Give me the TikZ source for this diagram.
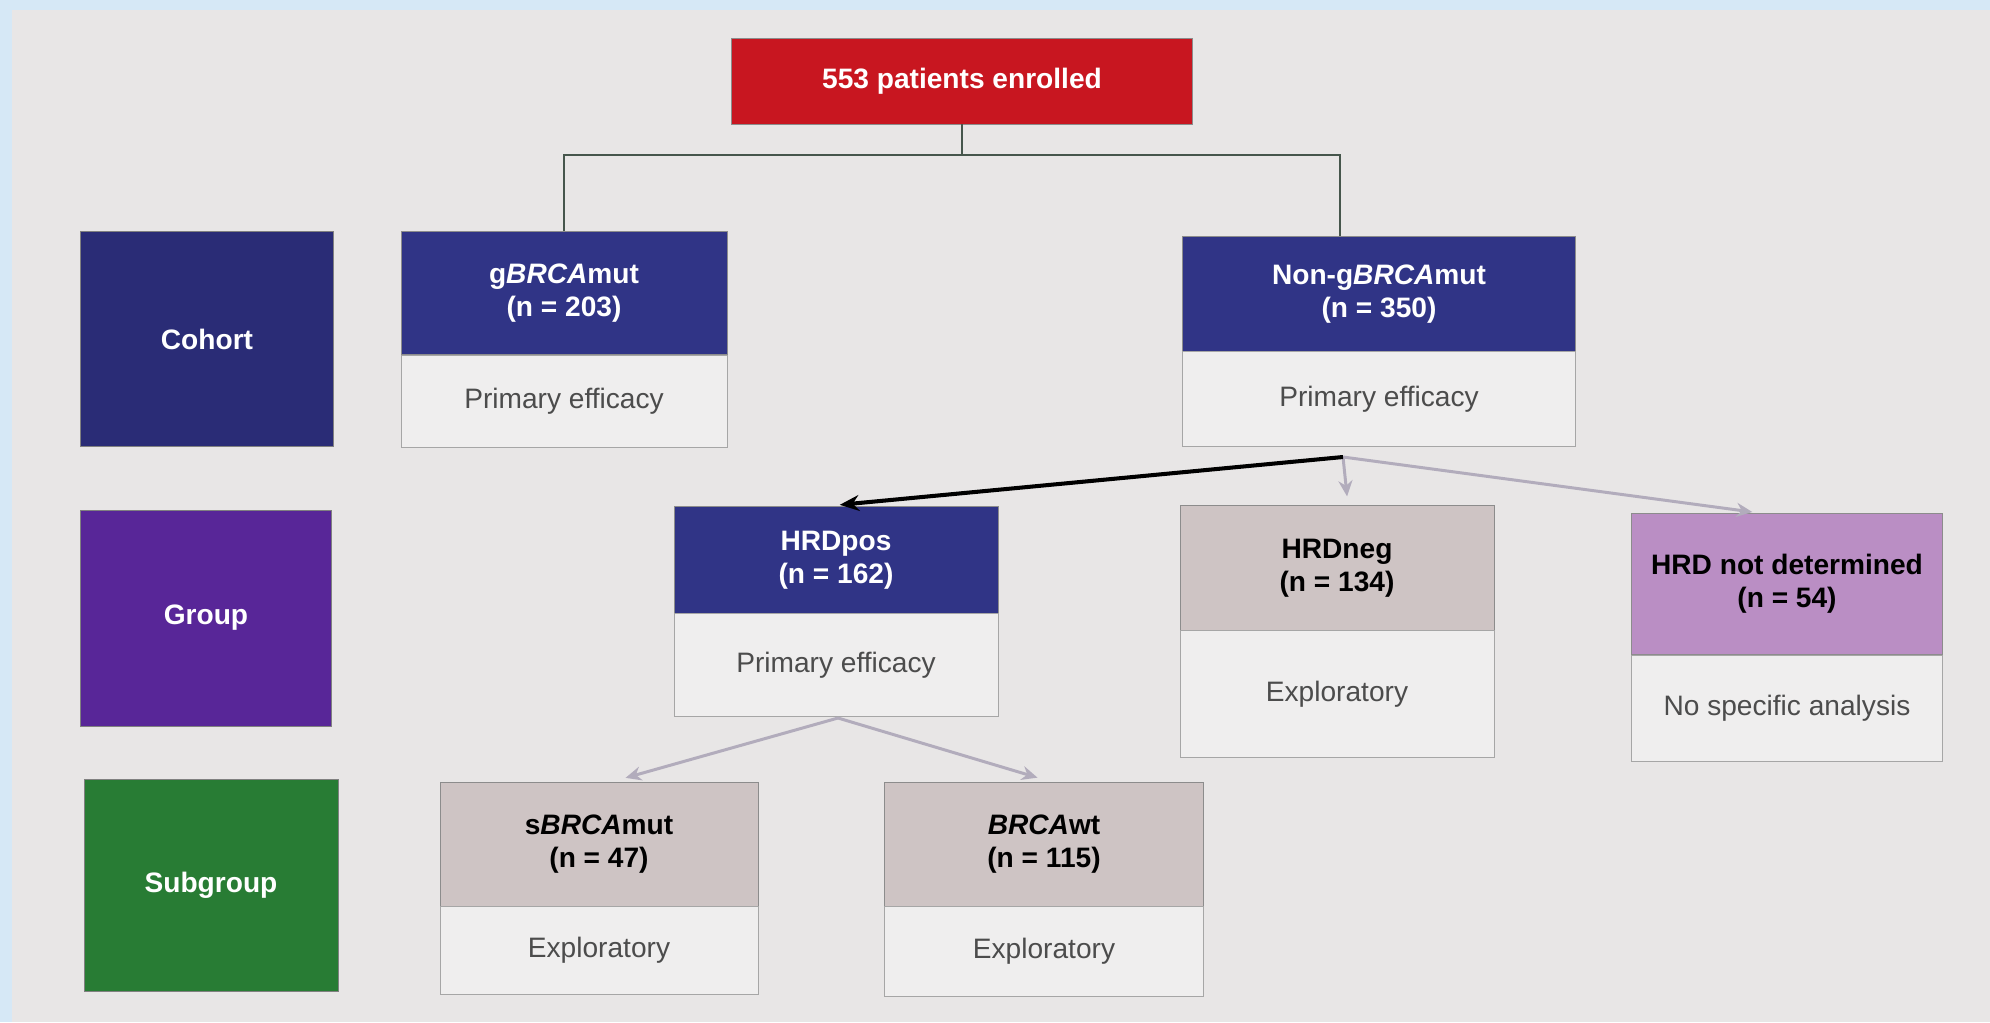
\documentclass[tikz,border=0pt]{standalone}
\usepackage{fontspec}
\setmainfont{Liberation Sans}
\usepackage{tikz}
\usetikzlibrary{arrows.meta}

\definecolor{rootred}{RGB}{200,22,32}
\definecolor{navy}{RGB}{42,44,118}
\definecolor{hdblue}{RGB}{48,52,134}
\definecolor{grpurple}{RGB}{88,38,152}
\definecolor{sgreen}{RGB}{40,124,52}
\definecolor{beige}{RGB}{206,196,196}
\definecolor{lilac}{RGB}{186,142,196}
\definecolor{bodyfill}{RGB}{239,238,238}
\definecolor{bg}{RGB}{232,230,230}
\definecolor{frameblue}{RGB}{214,232,246}
\definecolor{treeline}{RGB}{70,86,76}
\definecolor{softarrow}{RGB}{178,172,188}

\begin{document}
\begin{tikzpicture}[x=0.02cm,y=-0.02cm,font=\fontsize{16}{19}\selectfont,
  hd/.style={draw=black!45,fill=hdblue,text=white,font=\fontsize{16}{19}\selectfont\bfseries,align=center,inner sep=0pt},
  bd/.style={draw=black!35,fill=bodyfill,text=black!70,align=center,inner sep=0pt},
  rowbox/.style={draw=black!50,text=white,font=\fontsize{16}{19}\selectfont\bfseries,inner sep=0pt},
  tree/.style={draw=treeline,line width=1.1pt},
  pick/.style={line width=2.3pt,-{Stealth[length=11pt,width=9pt]},shorten >=5pt},
  skip/.style={draw=softarrow,line width=1.7pt,-{Stealth[length=9pt,width=8pt]},shorten >=5pt}]
% background
\fill[frameblue] (0,0) rectangle (1990,1022);
\fill[bg] (12,10) rectangle (1990,1022);
\useasboundingbox (0,0) rectangle (1990,1022);

\node[hd,fill=rootred,minimum width=9.22cm,minimum height=1.72cm] (root) at (962,81) {553 patients enrolled};

% row labels
\node[rowbox,fill=navy,minimum width=5.06cm,minimum height=4.30cm] (cohort) at (207,339) {Cohort};
\node[rowbox,fill=grpurple,minimum width=5.02cm,minimum height=4.32cm] (group) at (206,618) {Group};
\node[rowbox,fill=sgreen,minimum width=5.08cm,minimum height=4.24cm] (subgroup) at (211,885) {Subgroup};

% cohorts
\node[hd,minimum width=6.52cm,minimum height=2.46cm] (gmut) at (564,293) {g\textit{BRCA}mut\\(n = 203)};
\node[bd,minimum width=6.52cm,minimum height=1.84cm] (gmutb) at (564,401) {Primary efficacy};
\node[hd,minimum width=7.86cm,minimum height=2.32cm] (ngmut) at (1379,294) {Non-g\textit{BRCA}mut\\(n = 350)};
\node[bd,minimum width=7.86cm,minimum height=1.90cm] (ngmutb) at (1379,399) {Primary efficacy};

% groups
\node[hd,minimum width=6.48cm,minimum height=2.16cm] (hrdpos) at (836,560) {HRDpos\\(n = 162)};
\node[bd,minimum width=6.48cm,minimum height=2.06cm] (hrdposb) at (836,665) {Primary efficacy};
\node[hd,fill=beige,text=black,minimum width=6.28cm,minimum height=2.50cm] (hrdneg) at (1337,568) {HRDneg\\(n = 134)};
\node[bd,minimum width=6.28cm,minimum height=2.54cm] (hrdnegb) at (1337,694) {Exploratory};
\node[hd,fill=lilac,text=black,minimum width=6.22cm,minimum height=2.82cm] (hrdnd) at (1787,584) {HRD not determined\\(n = 54)};
\node[bd,minimum width=6.22cm,minimum height=2.12cm] (hrdndb) at (1787,708) {No specific analysis};

% subgroups
\node[hd,fill=beige,text=black,minimum width=6.36cm,minimum height=2.48cm] (sbrca) at (599,844) {s\textit{BRCA}mut\\(n = 47)};
\node[bd,minimum width=6.36cm,minimum height=1.76cm] (sbrcab) at (599,950) {Exploratory};
\node[hd,fill=beige,text=black,minimum width=6.38cm,minimum height=2.48cm] (brcawt) at (1044,844) {\textit{BRCA}wt\\(n = 115)};
\node[bd,minimum width=6.38cm,minimum height=1.80cm] (brcawtb) at (1044,951) {Exploratory};

% connectors
\coordinate (bar) at (962,155);
\coordinate (fork) at (1343,457);
\coordinate (fork2) at (838,718);
\draw[tree] (root.south) -- (bar);
\draw[tree] (gmut.north) |- (bar) -| ([xshift=-0.78cm]ngmut.north);
\draw[skip] (fork) -- ([xshift=0.22cm]hrdneg.north);
\draw[skip] (fork) -- ([xshift=-0.52cm]hrdnd.north);
\draw[pick] (fork) -- ([xshift=-0.1cm]hrdpos.north);
\draw[skip,shorten >=8pt] (fork2) -- ([xshift=0.26cm]sbrca.north);
\draw[skip,shorten >=8pt] (fork2) -- ([xshift=0.14cm]brcawt.north);
\end{tikzpicture}
\end{document}
